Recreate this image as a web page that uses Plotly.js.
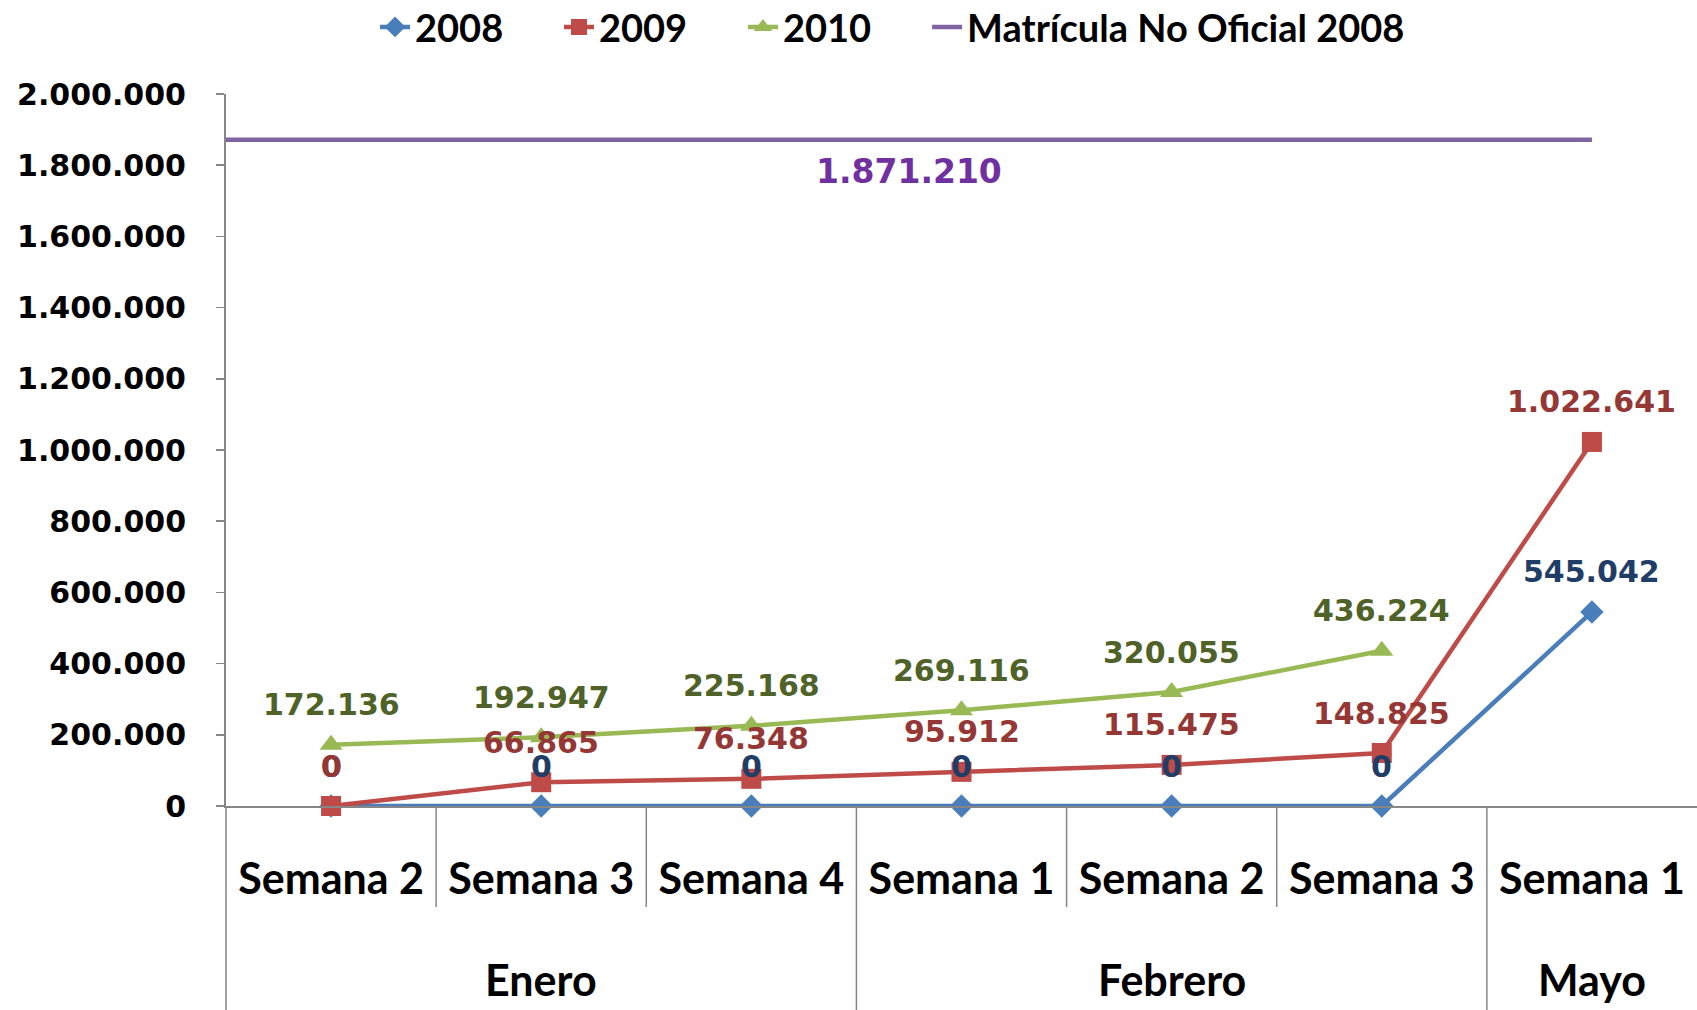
<!DOCTYPE html>
<html><head><meta charset="utf-8">
<script src="https://cdn.plot.ly/plotly-3.0.1.min.js"></script>
<style>html,body{margin:0;padding:0;background:#fff}#chart{width:1697px;height:1010px}</style>
</head><body><div id="chart"></div>
<script>
// ---- data ----
const months = ['Enero','Enero','Enero','Febrero','Febrero','Febrero','Mayo'];
const weeks = ['Semana 2','Semana 3','Semana 4','Semana 1','Semana 2','Semana 3','Semana 1'];
const s2008 = [0, 0, 0, 0, 0, 0, 545042];
const s2009 = [0, 66865, 76348, 95912, 115475, 148825, 1022641];
const s2010 = [172136, 192947, 225168, 269116, 320055, 436224, null];
const matriculaValue = 1871210;
const yTickVals = [0, 200000, 400000, 600000, 800000, 1000000, 1200000, 1400000, 1600000, 1800000, 2000000];

// ---- helpers ----
const n = weeks.length;
const idx = weeks.map((_, i) => i);
const fmt = v => String(v).replace(/\B(?=(\d{3})+(?!\d))/g, '.');
const labelFont = {family: 'DejaVu Sans', size: 30, weight: 'bold'};
const catFont = {family: 'Lato', size: 43, weight: 'bold', color: '#000'};
const axisGray = '#868686';

const series = [
  {name: '2008', y: s2008, color: '#4A7EBB', label: '#1F3D66', symbol: 'diamond', size: 18},
  {name: '2009', y: s2009, color: '#BE4B48', label: '#953735', symbol: 'square', size: 20},
  {name: '2010', y: s2010, color: '#98B954', label: '#4F6228', symbol: 'triangle-up', size: 20}
];
const legendIds = ['legend', 'legend2', 'legend3', 'legend4'];
const legendX = [0.221, 0.3294, 0.4378, 0.5463];

const traces = series.map((s, k) => ({
  type: 'scatter', mode: 'lines+markers', name: s.name, legend: legendIds[k],
  x: idx, y: s.y, cliponaxis: false,
  line: {color: s.color, width: 4.5},
  marker: {color: s.color, symbol: s.symbol, size: s.size}
}));
traces.push({
  type: 'scatter', mode: 'lines', name: 'Matrícula No Oficial 2008', legend: legendIds[3],
  x: [-0.5, n - 1], y: [matriculaValue, matriculaValue], cliponaxis: false,
  line: {color: '#8064A2', width: 4.5}
});

const annotations = [];
series.forEach(s => {
  s.y.forEach((v, i) => {
    if (v === null) return;
    annotations.push({
      x: i, y: v, xref: 'x', yref: 'y', text: fmt(v), showarrow: false,
      yanchor: 'middle', yshift: 40,
      font: Object.assign({color: s.label}, labelFont)
    });
  });
});
annotations.push({
  x: (-0.5 + n - 1) / 2, y: matriculaValue, xref: 'x', yref: 'y',
  text: fmt(matriculaValue), showarrow: false, yanchor: 'middle', yshift: -32,
  font: {family: 'DejaVu Sans', size: 33, weight: 'bold', color: '#7030A0'}
});
// month group labels
const uniqMonths = [...new Set(months)];
uniqMonths.forEach(m => {
  const ii = idx.filter(i => months[i] === m);
  const center = ii.reduce((a, b) => a + b, 0) / ii.length;
  annotations.push({
    x: center, y: 0, xref: 'x', yref: 'paper', text: m, showarrow: false,
    yanchor: 'middle', yshift: -173, font: catFont
  });
});

// category separators
const shapes = [];
for (let i = 0; i < n; i++) {
  const long = (i === 0) || months[i] !== months[i - 1];
  shapes.push({
    type: 'line', xref: 'paper', yref: 'paper', ysizemode: 'pixel', yanchor: 0,
    x0: i / n, x1: i / n, y0: 0, y1: long ? -210 : -101,
    line: {color: axisGray, width: 1.5}
  });
}

const layout = {
  width: 1697, height: 1010,
  margin: {l: 226, r: 0, t: 94, b: 204},
  paper_bgcolor: '#fff', plot_bgcolor: '#fff',
  separators: ',.',
  showlegend: true,
  xaxis: {
    range: [-0.5, n - 0.5], tickvals: idx, ticktext: weeks,
    ticks: '', showline: true, linecolor: axisGray, linewidth: 2,
    showgrid: false, zeroline: false, tickfont: catFont, ticklabelstandoff: 34,
    fixedrange: true
  },
  yaxis: {
    range: [0, 2000000], tickvals: yTickVals, tickformat: ',d',
    ticks: 'outside', ticklen: 8, tickcolor: axisGray, tickwidth: 1.5,
    showline: true, linecolor: axisGray, linewidth: 2,
    showgrid: false, zeroline: false, ticklabelstandoff: 24,
    tickfont: {family: 'DejaVu Sans', size: 30, weight: 'bold', color: '#000'},
    fixedrange: true
  },
  annotations: annotations,
  shapes: shapes
};
legendIds.forEach((id, k) => {
  layout[id] = {
    orientation: 'h', xref: 'container', yref: 'container',
    x: legendX[k], xanchor: 'left', y: 0.973, yanchor: 'middle',
    font: {family: 'Lato', size: 38, weight: 'bold', color: '#000'},
    bgcolor: 'rgba(0,0,0,0)', itemclick: false
  };
});

Plotly.newPlot('chart', traces, layout, {displayModeBar: false, staticPlot: true});
</script>
</body></html>
